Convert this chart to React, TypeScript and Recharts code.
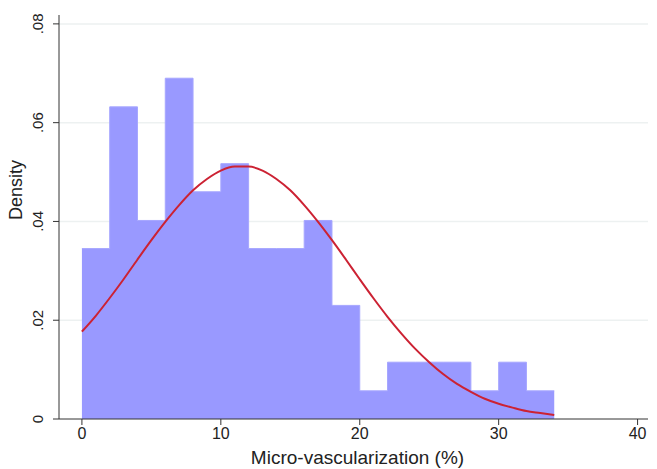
import { ComposedChart, Area, Line, XAxis, YAxis, CartesianGrid, Label } from "recharts";

// histogram bins (width 2), density per bin start
const binStarts = [0, 2, 4, 6, 8, 10, 12, 14, 16, 18, 20, 22, 24, 26, 28, 30, 32];
const binDensity = [0.0345, 0.0632, 0.0402, 0.069, 0.046, 0.0517, 0.0345, 0.0345, 0.0402, 0.023, 0.0057, 0.0115, 0.0115, 0.0115, 0.0057, 0.0115, 0.0057];
const binEnd = 34;

// normal density curve
const curveX = [0, 1, 2, 3, 4, 5, 6, 7, 8, 9, 10, 11, 12, 13, 14, 15, 16, 17, 18, 19, 20, 21, 22, 23, 24, 25, 26, 27, 28, 29, 30, 31, 32, 33, 34];
const curveY = [0.0177, 0.0209, 0.0245, 0.0283, 0.0323, 0.0362, 0.0399, 0.0433, 0.0463, 0.0486, 0.0503, 0.0511, 0.0511, 0.0503, 0.0486, 0.0463, 0.0433, 0.0399, 0.0362, 0.0323, 0.0283, 0.0244, 0.0207, 0.0173, 0.0142, 0.0115, 0.0091, 0.0071, 0.0055, 0.0041, 0.0031, 0.0023, 0.0016, 0.0012, 0.0008];

const xTicks = [0, 10, 20, 30, 40];
const yTicks = [0, 0.02, 0.04, 0.06, 0.08];

const histData = [
  ...binStarts.map((x, i) => ({ x, d: binDensity[i] })),
  { x: binEnd, d: binDensity[binDensity.length - 1] },
];
const curveData = curveX.map((x, i) => ({ x, y: curveY[i] }));

const font = "'Liberation Sans', Arial, sans-serif";

const fmtY = (v: number) => (v === 0 ? "0" : v.toFixed(2).replace(/^0/, ""));

function YTick(props: any) {
  const { x, y, payload } = props;
  return (
    <g transform={`translate(${x - 8},${y})`}>
      <text transform="rotate(-90)" textAnchor="middle" fill="#222" fontSize={15} fontFamily={font}>
        {fmtY(payload.value)}
      </text>
    </g>
  );
}

export default function App() {
  return (
    <div style={{ position: "absolute", left: 0, top: 0, background: "#fff" }}>
      <ComposedChart width={657} height={469} margin={{ top: 15, right: 9, left: 0, bottom: 0 }}>
        <CartesianGrid vertical={false} stroke="#edf1f1" strokeWidth={1.5} horizontalValues={[0.02, 0.04, 0.06, 0.08]} />
        <XAxis
          type="number"
          dataKey="x"
          domain={[-1.65, 40.75]}
          ticks={xTicks}
          allowDataOverflow
          height={50}
          tickSize={6}
          stroke="#333"
          tick={{ fill: "#222", fontSize: 16, fontFamily: font }}
          tickMargin={3}
        >
          <Label value="Micro-vascularization (%)" position="insideBottom" offset={5} dx={4} fill="#222" fontSize={19} fontFamily={font} />
        </XAxis>
        <YAxis
          type="number"
          domain={[0, 0.0818]}
          ticks={yTicks}
          allowDataOverflow
          width={59}
          tickSize={6}
          stroke="#333"
          tick={<YTick />}
        >
          <Label value="Density" angle={-90} position="insideLeft" offset={16} dy={3} fill="#222" fontSize={18} fontFamily={font} />
        </YAxis>
        <Area
          data={histData}
          dataKey="d"
          type="stepAfter"
          fill="#9999ff"
          fillOpacity={1}
          stroke="#a6a6ff"
          strokeWidth={1}
          isAnimationActive={false}
        />
        <Line
          data={curveData}
          dataKey="y"
          type="monotone"
          stroke="#cc2233"
          strokeWidth={2}
          dot={false}
          isAnimationActive={false}
        />
      </ComposedChart>
    </div>
  );
}
